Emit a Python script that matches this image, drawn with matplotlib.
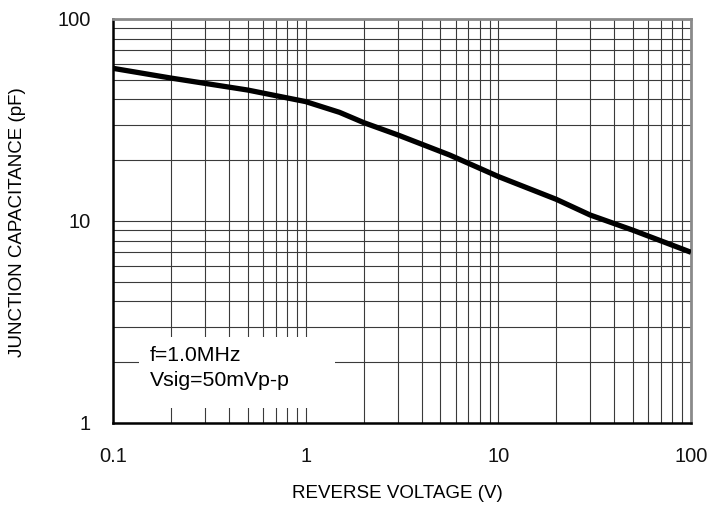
import numpy as np
import matplotlib.pyplot as plt
from matplotlib.patches import Rectangle
from matplotlib.ticker import FixedLocator, FixedFormatter, LogLocator, NullFormatter

plt.rcParams['font.family'] = ['Liberation Sans', 'DejaVu Sans']

# curve
voltage = [0.1, 0.2, 0.5, 1, 1.5, 2, 3, 5.6, 10, 20, 30, 50, 100]
capacitance = [57, 51, 44.5, 39, 34.5, 30.7, 26.7, 21.2, 16.6, 12.8, 10.7, 9.0, 7.0]

x_ticks = [0.1, 1, 10, 100]
x_labels = ["0.1", "1", "10", "100"]
y_ticks = [1, 10, 100]
y_labels = ["1", "10", "100"]

fig = plt.figure(figsize=(7.12, 5.07), dpi=100)
ax = fig.add_axes([113/712, 1 - 423/507, 578/712, 404/507])

ax.set_xscale("log")
ax.set_yscale("log")
ax.set_xlim(0.1, 100)
ax.set_ylim(1, 100)

ax.xaxis.set_major_locator(FixedLocator(x_ticks))
ax.xaxis.set_major_formatter(FixedFormatter(x_labels))
ax.yaxis.set_major_locator(FixedLocator(y_ticks))
ax.yaxis.set_major_formatter(FixedFormatter(y_labels))
ax.xaxis.set_minor_locator(LogLocator(base=10, subs=np.arange(2, 10)))
ax.yaxis.set_minor_locator(LogLocator(base=10, subs=np.arange(2, 10)))
ax.xaxis.set_minor_formatter(NullFormatter())
ax.yaxis.set_minor_formatter(NullFormatter())

ax.grid(True, which="both", color="#3a3a3a", linewidth=0.8, zorder=1)
ax.tick_params(which="both", length=0, labelsize=14.5, colors="#111111")
ax.tick_params(axis="y", pad=16)
ax.tick_params(axis="x", pad=17)
ax.set_axisbelow(True)

# white box behind the conditions text
ax.add_patch(Rectangle((0.045, 0.037), 0.339, 0.176, transform=ax.transAxes,
                       facecolor="white", edgecolor="none", zorder=2))
ax.text(0.064, 0.19, "f=1.0MHz\nVsig=50mVp-p", transform=ax.transAxes,
        fontsize=15.3, va="top", ha="left", linespacing=1.4, zorder=3)

ax.plot(voltage, capacitance, color="black", linewidth=3.8,
        solid_capstyle="butt", zorder=4)

for side in ["left", "bottom"]:
    ax.spines[side].set_color("black")
    ax.spines[side].set_linewidth(1.8)
for side in ["top", "right"]:
    ax.spines[side].set_color("#8a8a8a")
    ax.spines[side].set_linewidth(2.0)

fig.text(18/712, 1 - 222/507, "JUNCTION CAPACITANCE (pF)", rotation=90,
         ha="center", va="center", fontsize=13.5)
fig.text(397/712, 1 - 493/507, "REVERSE VOLTAGE (V)",
         ha="center", va="center", fontsize=13.5)

fig.savefig("out.png", dpi=100)
